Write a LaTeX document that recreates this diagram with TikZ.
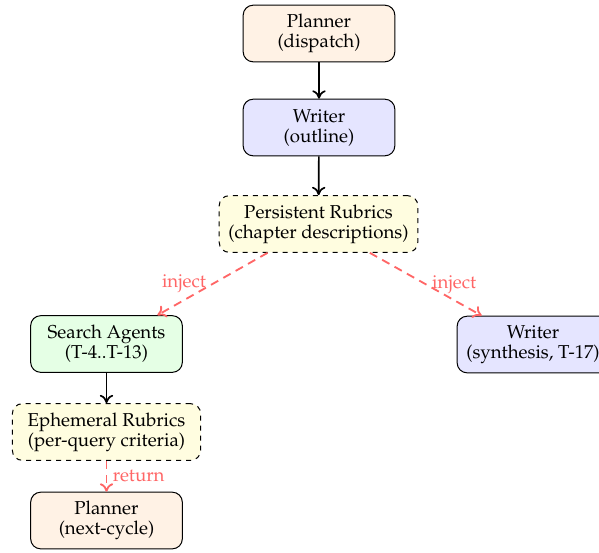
\documentclass[tikz,border=0pt]{standalone}
\usepackage[T1]{fontenc}
\usepackage{mathpazo}
\usetikzlibrary{arrows.meta}
\definecolor{rubred}{RGB}{255,102,102}
\tikzset{
  every node/.style={font=\fontsize{11.2}{12}\selectfont},
  box/.style={draw=black, semithick, rounded corners=6pt, align=center, minimum width=91pt, minimum height=34pt, inner xsep=5.5pt},
  planbox/.style={box, fill=orange!10},
  writebox/.style={box, fill=blue!10},
  searchbox/.style={box, fill=green!10},
  rubbox/.style={box, dashed, fill=yellow!12},
  flow/.style={-{To[length=5pt,width=8pt]}, line width=1pt, black},
  inj/.style={-{To[length=5pt,width=8pt]}, line width=1.1pt, dash pattern=on 5pt off 3.5pt, rubred},
  lab/.style={text=rubred}
}
\begin{document}
\begin{tikzpicture}[x=0.6pt, y=-0.6pt]
\useasboundingbox (0,0) rectangle (599,552);
\node[planbox] (p1) at (319,33.5) {Planner\\(dispatch)};
\node[writebox] (w1) at (319,127.5) {Writer\\(outline)};
\node[rubbox] (pr) at (318.5,224) {Persistent Rubrics\\(chapter descriptions)};
\node[searchbox] (sa) at (106.5,344) {Search Agents\\(T-4..T-13)};
\node[writebox] (w2) at (533,344.5) {Writer\\(synthesis, T-17)};
\node[rubbox, minimum width=113pt] (er) at (106.5,432) {Ephemeral Rubrics\\(per-query criteria)};
\node[planbox] (p2) at (106.5,520.5) {Planner\\(next-cycle)};
\draw[flow] (p1) -- (w1);
\draw[flow] (w1) -- (pr);
\draw[inj] (pr) -- node[lab, left] {inject} (sa);
\draw[inj] (pr) -- node[lab, right] {inject} (w2);
\draw[flow] (sa) -- (er);
\draw[inj] (er) -- node[lab, right] {return} (p2);
\end{tikzpicture}
\end{document}
